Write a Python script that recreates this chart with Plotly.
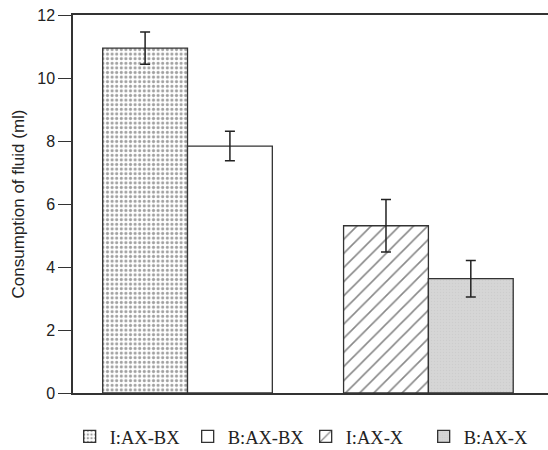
import plotly.graph_objects as go

# Fluid consumption per group (ml), mean and error
groups = ["I:AX-BX", "B:AX-BX", "I:AX-X", "B:AX-X"]
positions = [1.0, 2.0, 3.84, 4.84]
consumption = [10.95, 7.84, 5.31, 3.63]
errors = [0.51, 0.47, 0.83, 0.58]
y_ticks = [0, 2, 4, 6, 8, 10, 12]

# fill styles per group
fills = [
    dict(bgcolor="white", fgcolor="#444444", shape=".", size=4.6, solidity=0.35),
    dict(bgcolor="white", fgcolor="white", shape="", size=8, solidity=0.2),
    dict(bgcolor="white", fgcolor="#111111", shape="/", size=10, solidity=0.16),
    dict(bgcolor="#d6d6d6", fgcolor="#c4c4c4", shape=".", size=3, solidity=0.2),
]
solid = ["white", "white", "white", "#d6d6d6"]

fig = go.Figure()
for name, x, y, e, pat, col in zip(groups, positions, consumption, errors, fills, solid):
    fig.add_trace(go.Bar(
        x=[x], y=[y], name=name, width=1.0,
        marker=dict(color=col, pattern=pat,
                    line=dict(color="#333333", width=1.3)),
        error_y=dict(type="data", array=[e], visible=True,
                     color="#222222", thickness=1.5, width=5),
    ))

fig.update_layout(
    width=548, height=450,
    margin=dict(l=73, r=0, t=15, b=57, autoexpand=False),
    plot_bgcolor="white", paper_bgcolor="white",
    showlegend=True,
    legend=dict(orientation="h", x=-0.007, xanchor="left",
                y=-0.116, yanchor="middle",
                entrywidthmode="pixels", entrywidth=73,
                font=dict(family="Liberation Serif", size=18.5, color="#222222"),
                itemclick=False, tracegroupgap=0),
    font=dict(family="Arial, Liberation Sans, sans-serif", color="#222222"),
)
fig.update_xaxes(range=[0.15, 5.75], showline=True, mirror=True,
                 linecolor="#333333", linewidth=1.5,
                 showticklabels=False, ticks="", showgrid=False, zeroline=False)
fig.update_yaxes(range=[0, 12], tickvals=y_ticks, showline=True, mirror=False,
                 linecolor="#333333", linewidth=1.5,
                 ticks="outside", ticklen=13, tickwidth=1.3, tickcolor="#333333",
                 tickfont=dict(size=16), showgrid=False, zeroline=False,
                 title=dict(text="Consumption of fluid (ml)",
                            font=dict(size=17), standoff=8))

fig.write_html("out.html")
